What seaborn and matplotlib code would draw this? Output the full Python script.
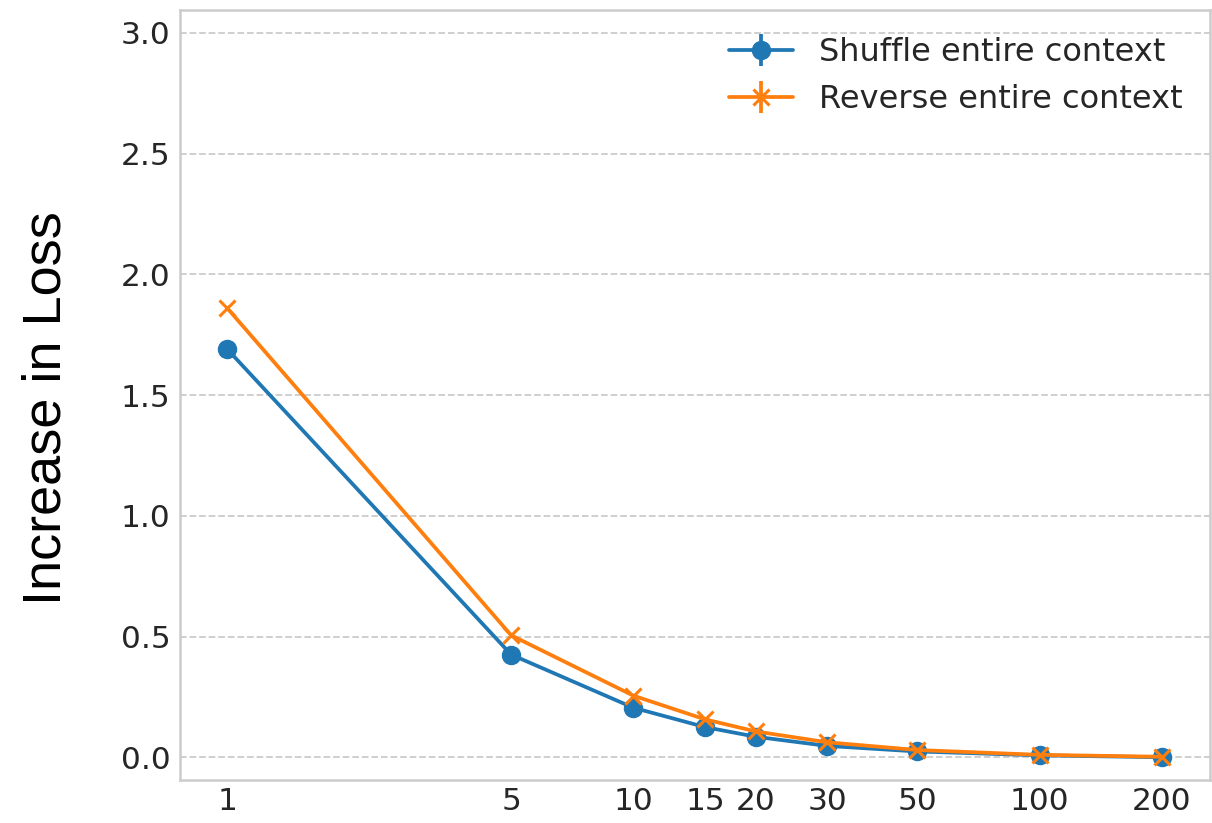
import matplotlib
matplotlib.use("Agg")
import matplotlib.pyplot as plt
import seaborn as sns

# Data
x_values = [1, 5, 10, 15, 20, 30, 50, 100, 200]
x_labels = ["1", "5", "10", "15", "20", "30", "50", "100", "200"]
shuffle_loss = [1.69, 0.425, 0.205, 0.125, 0.085, 0.047, 0.024, 0.008, 0.0]
reverse_loss = [1.86, 0.505, 0.255, 0.157, 0.107, 0.062, 0.030, 0.010, 0.002]
shuffle_err = [0.006, 0.004, 0.003, 0.002, 0.002, 0.001, 0.001, 0.001, 0.001]
reverse_err = [0.006, 0.004, 0.003, 0.002, 0.002, 0.001, 0.001, 0.001, 0.001]
y_ticks = [0.0, 0.5, 1.0, 1.5, 2.0, 2.5, 3.0]

sns.set_style("whitegrid")
plt.rcParams['font.family'] = ['DejaVu Sans']

fig = plt.figure(figsize=(12.12, 8.23), dpi=100)
ax = fig.add_axes([0.1485, 0.052, 0.8495, 0.936])

blue = sns.color_palette("tab10")[0]
orange = sns.color_palette("tab10")[1]

ax.errorbar(x_values, shuffle_loss, yerr=shuffle_err, color=blue, marker="o",
            markersize=13, linewidth=2.7, elinewidth=2.7,
            label="Shuffle entire context")
ax.errorbar(x_values, reverse_loss, yerr=reverse_err, color=orange, marker="x",
            markersize=12, markeredgewidth=2.2, linewidth=2.7, elinewidth=2.7,
            label="Reverse entire context")

ax.set_xscale("log")
ax.set_xticks(x_values)
ax.set_xticklabels(x_labels)
ax.xaxis.set_minor_locator(matplotlib.ticker.NullLocator())
ax.set_xlim(0.765, 262)
ax.set_ylim(-0.095, 3.095)
ax.set_yticks(y_ticks)
ax.set_yticklabels([f"{v:.1f}" for v in y_ticks])
ax.tick_params(axis="both", labelsize=22.5, colors="#262626", length=0)
ax.tick_params(axis="y", pad=7)
ax.tick_params(axis="x", pad=5)

ax.grid(False)
ax.yaxis.grid(True, linestyle="--", color="#cccccc", linewidth=1.3)
for s in ax.spines.values():
    s.set_color("#cccccc")
    s.set_linewidth(1.8)

ax.set_ylabel("Increase in Loss", fontsize=39, family=["Liberation Sans", "DejaVu Sans"],
              color="black")
ax.yaxis.set_label_coords(-0.105, 0.483)

ax.legend(loc="upper right", frameon=False, fontsize=23, handlelength=2.0,
          borderaxespad=0.45, labelspacing=0.5, handletextpad=0.8)

fig.savefig("out.png", dpi=100)
